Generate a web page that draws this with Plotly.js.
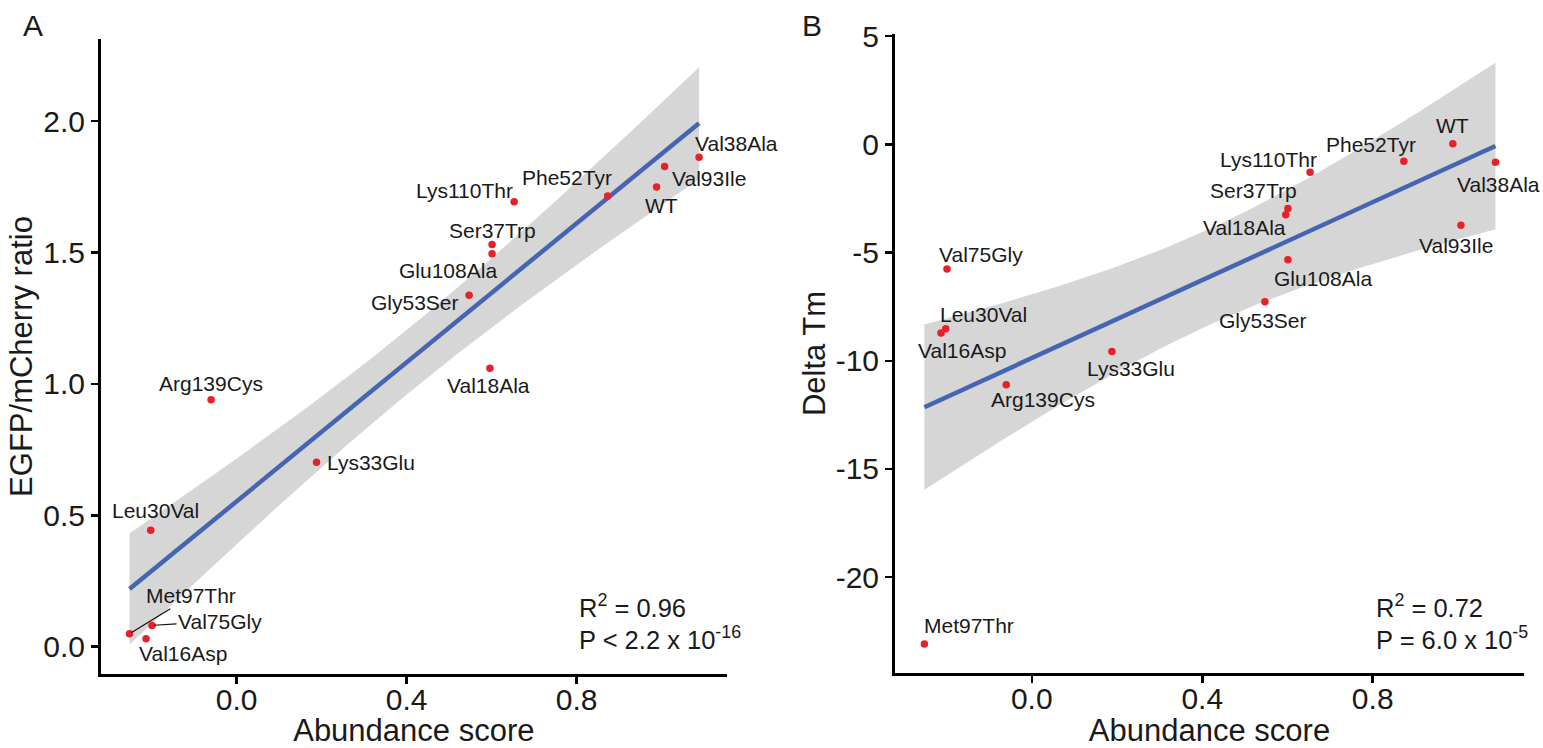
<!DOCTYPE html>
<html><head><meta charset="utf-8">
<script src="https://cdn.plot.ly/plotly-3.0.1.min.js"></script>
<style>html,body{margin:0;padding:0;background:#fff}#chart{width:1543px;height:748px}</style>
</head><body><div id="chart"></div>
<script>
// ---------- data ----------
const mutants   = ["Met97Thr","Val75Gly","Val16Asp","Leu30Val","Lys33Glu","Arg139Cys","Val18Ala","Gly53Ser","Glu108Ala","Ser37Trp","Lys110Thr","Phe52Tyr","WT","Val93Ile","Val38Ala"];
const abundance = [-0.252,-0.199,-0.213,-0.202,0.188,-0.060,0.596,0.547,0.601,0.601,0.653,0.873,0.988,1.007,1.088];
const egfpRatio = [0.049,0.081,0.030,0.443,0.702,0.939,1.059,1.337,1.495,1.530,1.693,1.715,1.749,1.827,1.862];
const deltaTm   = [-23.08,-5.76,-8.72,-8.52,-9.57,-11.11,-3.25,-7.27,-5.33,-2.97,-1.29,-0.78,0.02,-3.74,-0.83];

const xTickVals  = [0.0, 0.4, 0.8];
const xTickText  = ["0.0","0.4","0.8"];
const yTickValsA = [0, 0.5, 1, 1.5, 2];
const yTickTextA = ["0.0","0.5","1.0","1.5","2.0"];
const yTickValsB = [5, 0, -5, -10, -15, -20];
const yTickTextB = ["5","0","-5","-10","-15","-20"];

const statsA = ["R<sup>2</sup> = 0.96", "P &lt; 2.2 x 10<sup>-16</sup>"];
const statsB = ["R<sup>2</sup> = 0.72", "P = 6.0 x 10<sup>-5</sup>"];

// ---------- label placement (pixel offsets dx, dy-down, leader line) ----------
const labelPosA = {
  Met97Thr:[62,-38,true], Val75Gly:[68,-4,true], Val16Asp:[37,15], Leu30Val:[5,-20],
  Lys33Glu:[54,0], Arg139Cys:[0,-16], Val18Ala:[-1,17], Gly53Ser:[-54,7],
  Glu108Ala:[-44,17], Ser37Trp:[0,-14], Lys110Thr:[-50,-11], Phe52Tyr:[-41,-18],
  WT:[5,19], Val93Ile:[44,12], Val38Ala:[37,-14]
};
const labelPosB = {
  Met97Thr:[45,-18], Val75Gly:[34,-14], Val16Asp:[21,17], Leu30Val:[38,-14],
  Lys33Glu:[19,17], Arg139Cys:[37,15], Val18Ala:[-41,13], Gly53Ser:[-2,19],
  Glu108Ala:[35,19], Ser37Trp:[-34,-18], Lys110Thr:[-42,-13], Phe52Tyr:[-33,-17],
  WT:[0,-18], Val93Ile:[-5,20], Val38Ala:[3,22]
};

// ---------- linear fit with 95% CI (like geom_smooth(method = "lm")) ----------
const T975_DF13 = 2.1604; // t quantile, df = n - 2 = 13
function lmFit(x, y) {
  const n = x.length;
  const xb = x.reduce((s,v)=>s+v,0)/n, yb = y.reduce((s,v)=>s+v,0)/n;
  let sxx=0, sxy=0;
  for (let i=0;i<n;i++){ sxx+=(x[i]-xb)**2; sxy+=(x[i]-xb)*(y[i]-yb); }
  const b = sxy/sxx, a = yb - b*xb;
  let sse=0; for (let i=0;i<n;i++){ sse+=(y[i]-a-b*x[i])**2; }
  const s = Math.sqrt(sse/(n-2));
  const lo = Math.min(...x), hi = Math.max(...x);
  const gx=[], gy=[], up=[], dn=[];
  for (let k=0;k<80;k++){
    const xv = lo + (hi-lo)*k/79;
    const yv = a + b*xv;
    const se = s*Math.sqrt(1/n + (xv-xb)**2/sxx);
    gx.push(xv); gy.push(yv); up.push(yv+T975_DF13*se); dn.push(yv-T975_DF13*se);
  }
  return {gx, gy, up, dn};
}

const FONT = "Liberation Sans, Arial, sans-serif";
const TXT = "#1a1a1a";
const PT = "#e8202a";
const LINE = "#4565b3";
const RIB = "rgba(153,153,153,0.4)";

function panelTraces(y, xa, ya) {
  const f = lmFit(abundance, y);
  return [
    {x: f.gx.concat(f.gx.slice().reverse()), y: f.up.concat(f.dn.slice().reverse()),
     xaxis: xa, yaxis: ya, type:'scatter', mode:'lines', fill:'toself', fillcolor: RIB,
     line:{width:0, color:'rgba(0,0,0,0)'}, hoverinfo:'skip'},
    {x: f.gx, y: f.gy, xaxis: xa, yaxis: ya, type:'scatter', mode:'lines',
     line:{color: LINE, width: 4.5}},
    {x: abundance, y: y, text: mutants, xaxis: xa, yaxis: ya, type:'scatter', mode:'markers',
     marker:{color: PT, size: 7.5}}
  ];
}

const data = panelTraces(egfpRatio, 'x', 'y').concat(panelTraces(deltaTm, 'x2', 'y2'));

const annotations = [];
function addLabels(y, pos, xr, yr) {
  mutants.forEach((m, i) => {
    const p = pos[m];
    const base = {x: abundance[i], y: y[i], xref: xr, yref: yr, text: m,
                  font:{family: FONT, size: 21, color: TXT}};
    if (p[2]) {
      annotations.push(Object.assign(base, {showarrow:true, ax:p[0], ay:p[1], arrowhead:0,
        arrowwidth:1.2, arrowcolor:'#111', standoff:2}));
    } else {
      annotations.push(Object.assign(base, {showarrow:false, xshift:p[0], yshift:-p[1]}));
    }
  });
}
addLabels(egfpRatio, labelPosA, 'x', 'y');
addLabels(deltaTm, labelPosB, 'x2', 'y2');

function addStats(lines, leftPx) {
  [606, 638].forEach((cy, k) => {
    annotations.push({xref:'paper', yref:'paper', x: leftPx/1543, y: 1 - cy/748,
      xanchor:'left', yanchor:'middle', showarrow:false, text: lines[k],
      font:{family: FONT, size: 25.5, color: TXT}});
  });
}
addStats(statsA, 577);
addStats(statsB, 1374);

[["A", 21], ["B", 800]].forEach(([t, px]) => {
  annotations.push({xref:'paper', yref:'paper', x: px/1543, y: 1 - 25.5/748,
    xanchor:'left', yanchor:'middle', showarrow:false, text: t,
    font:{family: FONT, size: 30, color: TXT}});
});

function axisBase() {
  return {showgrid:false, zeroline:false, showline:true, linecolor:'#000', linewidth:3,
    ticks:'outside', ticklen:7, tickwidth:2.5, tickcolor:'#000',
    tickfont:{family: FONT, size: 30, color: TXT}, tickmode:'array'};
}

const NB = "\u00a0\u00a0"; // small lead-in so the vertical titles sit like the original
const layout = {
  width: 1543, height: 748, margin:{l:0, r:0, t:0, b:0},
  paper_bgcolor:'#fff', plot_bgcolor:'#fff', showlegend:false,
  font:{family: FONT, color: TXT},
  xaxis: Object.assign(axisBase(), {domain:[101/1543, 726.7/1543], range:[-0.319, 1.153],
    anchor:'y', tickvals: xTickVals, ticktext: xTickText, ticklabelstandoff: -10,
    title:{text:'Abundance score', font:{family: FONT, size: 31, color: TXT}, standoff: 18}}),
  yaxis: Object.assign(axisBase(), {domain:[(748-674)/748, (748-39)/748], range:[-0.104, 2.312],
    anchor:'x', tickvals: yTickValsA, ticktext: yTickTextA,
    title:{text: NB + 'EGFP/mCherry ratio', font:{family: FONT, size: 31, color: TXT}, standoff: 2}}),
  xaxis2: Object.assign(axisBase(), {domain:[895/1543, 1524/1543], range:[-0.321, 1.155],
    anchor:'y2', tickvals: xTickVals, ticktext: xTickText, ticklabelstandoff: -10,
    title:{text:'Abundance score', font:{family: FONT, size: 31, color: TXT}, standoff: 18}}),
  yaxis2: Object.assign(axisBase(), {domain:[(748-672.7)/748, (748-34.3)/748], range:[-24.41, 5.08],
    anchor:'x2', tickvals: yTickValsB, ticktext: yTickTextB,
    title:{text: NB + 'Delta Tm', font:{family: FONT, size: 31, color: TXT}, standoff: 1}}),
  annotations: annotations
};

Plotly.newPlot('chart', data, layout, {displayModeBar:false, staticPlot:true});
</script>
</body></html>
